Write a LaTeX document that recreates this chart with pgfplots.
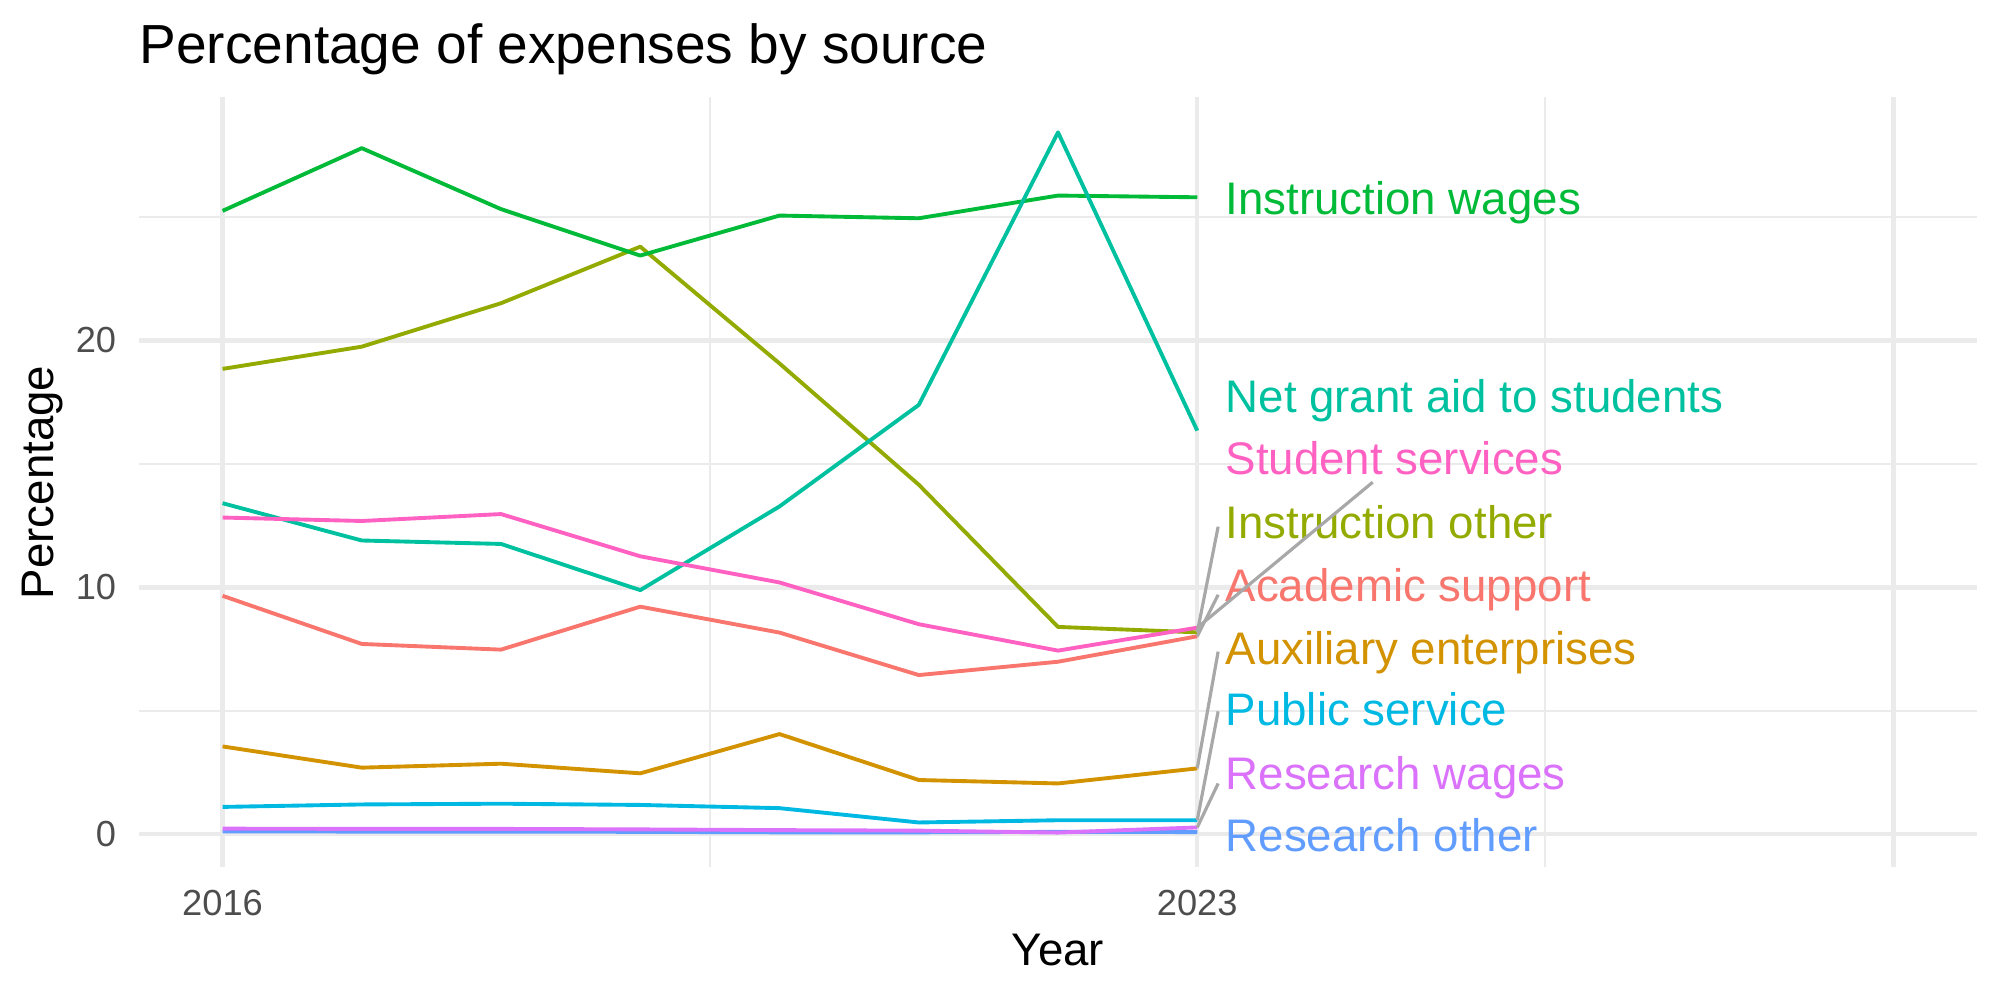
\documentclass[border=0pt]{standalone}
\usepackage{fontspec}
\setmainfont{Liberation Sans}
\usepackage{pgfplots}
\pgfplotsset{compat=1.18}

% ggplot-style hue palette, one colour per expense source
\definecolor{cAcad}{HTML}{F8766D}
\definecolor{cAux}{HTML}{D39200}
\definecolor{cInsO}{HTML}{93AA00}
\definecolor{cInsW}{HTML}{00BA38}
\definecolor{cGrant}{HTML}{00C19F}
\definecolor{cPub}{HTML}{00B9E3}
\definecolor{cResO}{HTML}{619CFF}
\definecolor{cResW}{HTML}{DB72FB}
\definecolor{cStud}{HTML}{FF61C3}
\definecolor{gridc}{HTML}{EBEBEB}
\definecolor{tickc}{HTML}{4D4D4D}
\definecolor{segc}{HTML}{A8A8A8}

\newcommand{\labfont}{\fontsize{16.5}{19}\selectfont}
\newcommand{\tickfont}{\fontsize{13.1}{15}\selectfont}

\begin{document}
\begin{tikzpicture}
\useasboundingbox (0,0) rectangle (722.7pt,361.35pt);
\begin{axis}[
  at={(50.23pt,47.91pt)}, anchor=south west,
  width=664.16pt, height=278.28pt, scale only axis,
  xmin=2015.4, xmax=2028.6, ymin=-1.34, ymax=29.85,
  xtick={2016,2023,2028}, xticklabels={2016,2023,{}},
  minor xtick={2019.5,2025.5},
  ytick={0,10,20}, minor ytick={5,15,25},
  grid=both,
  major grid style={draw=gridc, line width=1.55pt},
  minor grid style={draw=gridc, line width=0.78pt},
  axis line style={draw=none},
  major tick length=0pt, minor tick length=0pt,
  tick style={draw=none},
  /pgf/number format/assume math mode=true,
  xticklabel style={font=\tickfont, text=tickc, anchor=base, inner sep=0pt, yshift=-17.27pt},
  yticklabel style={font=\tickfont, text=tickc, anchor=east, inner sep=0pt, xshift=-8.06pt},
  clip=false,
  every axis plot/.append style={line width=1.4pt, line join=round},
]
% Academic support
\addplot[cAcad] coordinates {(2016,9.66) (2017,7.71) (2018,7.48) (2019,9.22) (2020,8.17) (2021,6.45) (2022,6.99) (2023,8.02)};
% Auxiliary enterprises
\addplot[cAux] coordinates {(2016,3.56) (2017,2.70) (2018,2.86) (2019,2.47) (2020,4.06) (2021,2.20) (2022,2.06) (2023,2.67)};
% Instruction other
\addplot[cInsO] coordinates {(2016,18.85) (2017,19.75) (2018,21.51) (2019,23.80) (2020,19.07) (2021,14.16) (2022,8.40) (2023,8.18)};
% Instruction wages
\addplot[cInsW] coordinates {(2016,25.25) (2017,27.79) (2018,25.32) (2019,23.44) (2020,25.06) (2021,24.95) (2022,25.87) (2023,25.80)};
% Net grant aid to students
\addplot[cGrant] coordinates {(2016,13.41) (2017,11.90) (2018,11.76) (2019,9.89) (2020,13.28) (2021,17.39) (2022,28.43) (2023,16.35)};
% Public service
\addplot[cPub] coordinates {(2016,1.11) (2017,1.21) (2018,1.24) (2019,1.19) (2020,1.06) (2021,0.48) (2022,0.57) (2023,0.57)};
% Research other
\addplot[cResO] coordinates {(2016,0.12) (2017,0.11) (2018,0.11) (2019,0.10) (2020,0.08) (2021,0.08) (2022,0.10) (2023,0.09)};
% Research wages
\addplot[cResW] coordinates {(2016,0.23) (2017,0.22) (2018,0.22) (2019,0.20) (2020,0.17) (2021,0.15) (2022,0.07) (2023,0.28)};
% Student services
\addplot[cStud] coordinates {(2016,12.83) (2017,12.69) (2018,12.97) (2019,11.26) (2020,10.20) (2021,8.51) (2022,7.44) (2023,8.37)};

% direct labels at the right end of each series
\node[anchor=base west, inner sep=0pt, font=\labfont, text=cInsW]  at (axis cs:2023.20,25.12) {Instruction wages};
\node[anchor=base west, inner sep=0pt, font=\labfont, text=cGrant] at (axis cs:2023.20,17.10) {Net grant aid to students};
\node[anchor=base west, inner sep=0pt, font=\labfont, text=cStud]  at (axis cs:2023.20,14.56) {Student services};
\node[anchor=base west, inner sep=0pt, font=\labfont, text=cInsO]  at (axis cs:2023.20,11.99) {Instruction other};
\node[anchor=base west, inner sep=0pt, font=\labfont, text=cAcad]  at (axis cs:2023.20,9.43) {Academic support};
\node[anchor=base west, inner sep=0pt, font=\labfont, text=cAux]   at (axis cs:2023.20,6.89) {Auxiliary enterprises};
\node[anchor=base west, inner sep=0pt, font=\labfont, text=cPub]   at (axis cs:2023.20,4.39) {Public service};
\node[anchor=base west, inner sep=0pt, font=\labfont, text=cResW]  at (axis cs:2023.20,1.83) {Research wages};
\node[anchor=base west, inner sep=0pt, font=\labfont, text=cResO]  at (axis cs:2023.20,-0.70) {Research other};

% leader segments from the last point to its label
\addplot[segc, line width=1.15pt] coordinates {(2023,8.37) (2024.26,14.26)};
\addplot[segc, line width=1.15pt] coordinates {(2023,8.18) (2023.15,12.46)};
\addplot[segc, line width=1.15pt] coordinates {(2023,8.02) (2023.15,9.70)};
\addplot[segc, line width=1.15pt] coordinates {(2023,2.67) (2023.15,7.40)};
\addplot[segc, line width=1.15pt] coordinates {(2023,0.57) (2023.15,4.98)};
\addplot[segc, line width=1.15pt] coordinates {(2023,0.28) (2023.15,2.06)};
\end{axis}

\node[anchor=base west, inner sep=0pt, font=\fontsize{19.9}{23}\selectfont] at (50.23pt,338.5pt) {Percentage of expenses by source};
\node[anchor=base, inner sep=0pt, font=\labfont] at (382.3pt,12.43pt) {Year};
\node[anchor=base, rotate=90, inner sep=0pt, font=\labfont] at (19.26pt,187.04pt) {Percentage};
\end{tikzpicture}
\end{document}
